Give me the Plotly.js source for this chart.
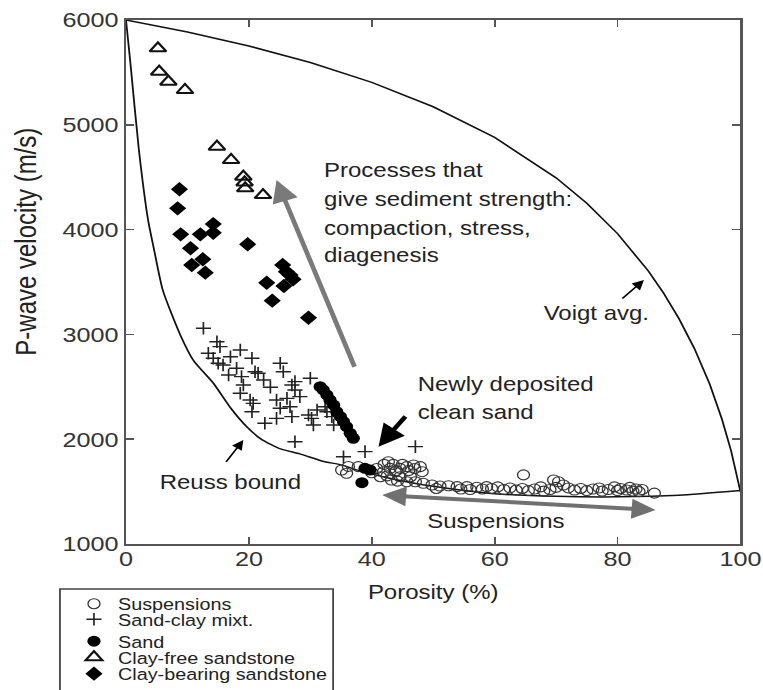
<!DOCTYPE html>
<html>
<head>
<meta charset="utf-8">
<script src="https://cdn.plot.ly/plotly-3.0.1.min.js"></script>
<style>
  html, body { margin: 0; padding: 0; background: #fff; overflow: hidden; }
  /* the figure is laid out narrower and widened horizontally */
  #chart { width: 636px; height: 690px; transform: scaleX(1.2); transform-origin: 0 0; }
</style>
</head>
<body>
<div id="chart"></div>
<script>
// Porosity (%) and P-wave velocity (m/s) for each sediment group
const suspPhi = [35.1, 35.9, 36.2, 37.8, 40.0, 40.8, 41.4, 41.9, 42.0, 42.5, 42.7, 43.0, 43.2, 43.5, 43.8, 44.0,
  44.2, 44.6, 44.6, 45.0, 45.7, 45.7, 46.0, 46.3, 46.8, 47.0, 47.1, 47.9, 48.2, 48.4, 49.8, 50.5, 51.1, 52.5,
  53.9, 54.5, 55.5, 56.0, 57.1, 58.0, 58.7, 59.5, 60.5, 61.5, 62.5, 63.5, 64.5, 64.7, 65.5, 66.5, 67.5, 68.0,
  69.0, 69.6, 70.0, 70.4, 71.2, 72.0, 73.0, 74.0, 75.0, 76.0, 77.0, 77.5, 78.5, 79.5, 80.0, 80.5, 81.5, 82.0,
  82.5, 83.0, 83.5, 84.0, 86.0];
const suspVp = [1706, 1675, 1740, 1738, 1680, 1720, 1642, 1690, 1760, 1650, 1785, 1722, 1610, 1760, 1690, 1700,
  1600, 1722, 1642, 1760, 1738, 1594, 1700, 1642, 1754, 1720, 1594, 1738, 1690, 1579, 1563, 1530, 1553, 1556,
  1547, 1525, 1547, 1520, 1541, 1525, 1547, 1530, 1545, 1520, 1535, 1515, 1530, 1660, 1510, 1525, 1545, 1505,
  1520, 1611, 1540, 1594, 1563, 1535, 1515, 1530, 1510, 1525, 1535, 1505, 1520, 1545, 1510, 1530, 1515, 1540,
  1505, 1525, 1500, 1520, 1485];

const mixPhi = [12.6, 14.8, 15.3, 13.4, 14.2, 17.0, 18.6, 20.5, 15.0, 15.8, 18.0, 21.0, 21.5, 16.7, 18.8, 19.1,
  22.4, 23.5, 25.1, 25.6, 27.0, 27.5, 27.5, 30.0, 28.3, 26.2, 26.7, 24.5, 25.1, 18.6, 20.2, 20.7, 20.5, 22.6,
  24.5, 27.0, 29.7, 30.2, 30.5, 31.1, 32.4, 32.7, 33.5, 33.8, 27.5, 35.4, 38.9, 47.1];
const mixVp = [3058, 2930, 2883, 2820, 2772, 2787, 2851, 2772, 2724, 2708, 2677, 2644, 2629, 2613, 2597, 2517,
  2565, 2495, 2724, 2644, 2517, 2469, 2549, 2581, 2406, 2390, 2310, 2374, 2295, 2438, 2374, 2342, 2262, 2152,
  2199, 2215, 2231, 2199, 2136, 2279, 2310, 2262, 2215, 2136, 1976, 1833, 1881, 1929];

const sandPhi = [31.6, 32.1, 32.7, 33.2, 33.8, 34.3, 34.9, 35.4, 35.9, 36.5, 37.0, 38.9, 39.7, 38.4];
const sandVp = [2501, 2470, 2422, 2374, 2326, 2262, 2215, 2167, 2119, 2056, 2008, 1722, 1706, 1585];

const cleanPhi = [5.2, 5.4, 6.9, 9.6, 14.8, 17.1, 19.1, 19.3, 19.4, 22.3];
const cleanVp = [5730, 5507, 5411, 5332, 4791, 4664, 4505, 4450, 4394, 4330];

const clayPhi = [8.7, 8.4, 8.9, 12.1, 14.2, 14.2, 10.5, 10.7, 12.5, 12.9, 19.8, 25.5, 26.1, 26.7, 27.2, 22.9,
  25.7, 23.8, 29.7];
const clayVp = [4385, 4203, 3955, 3955, 4053, 3970, 3822, 3662, 3717, 3589, 3860, 3662, 3598, 3567, 3526, 3493,
  3462, 3322, 3159];

// upper (Voigt) and lower (Reuss) curves
const voigtPhi = [0, 10, 20, 30, 40, 50, 60, 70, 75, 80, 85, 87.5, 90, 92.5, 95, 97, 98.5, 100];
const voigtVp = [6000, 5886, 5752, 5595, 5405, 5172, 4879, 4494, 4252, 3962, 3606, 3394, 3151, 2867, 2527, 2190, 1886, 1500];

const reussPhi = [0, 0.7, 2.1, 3.6, 4.6, 6.0, 8.8, 11, 14.2, 17, 19.7, 22, 25, 28.3, 32, 35, 38, 42, 46, 50, 55, 60, 70, 80, 90, 100];
const reussVp = [6000, 5600, 4760, 4090, 3800, 3420, 3000, 2750, 2536, 2300, 2116, 2000, 1910, 1860, 1790, 1755, 1700, 1640, 1590, 1550, 1510, 1480, 1455, 1450, 1465, 1510];

const legendNames = ['Suspensions', 'Sand-clay mixt.', 'Sand', 'Clay-free sandstone', 'Clay-bearing sandstone'];
// vertical centre of each key row, in paper units below the x axis
const legendRows = [-0.1145, -0.1440, -0.1860, -0.2165, -0.2480];

const FONT = 'Liberation Sans, Arial, Helvetica, sans-serif';
const INK = '#222';

const traces = [
  { x: voigtPhi, y: voigtVp, mode: 'lines', line: { color: '#111', width: 1.5 }, showlegend: false, hoverinfo: 'skip' },
  { x: reussPhi, y: reussVp, mode: 'lines', line: { color: '#111', width: 1.5, shape: 'spline', smoothing: 0.6 }, showlegend: false, hoverinfo: 'skip' },
  { x: suspPhi, y: suspVp, mode: 'markers', name: legendNames[0], legend: 'legend',
    marker: { symbol: 'circle-open', size: 10, color: '#333', line: { width: 1.1 } } },
  { x: mixPhi, y: mixVp, mode: 'markers', name: legendNames[1], legend: 'legend2',
    marker: { symbol: 'cross-thin-open', size: 9, color: '#222', line: { width: 1.4 } } },
  { x: sandPhi, y: sandVp, mode: 'markers', name: legendNames[2], legend: 'legend3',
    marker: { symbol: 'circle', size: 11, color: '#000' } },
  { x: cleanPhi, y: cleanVp, mode: 'markers', name: legendNames[3], legend: 'legend4',
    marker: { symbol: 'triangle-up-open', size: 12, color: '#111', line: { width: 2 } } },
  { x: clayPhi, y: clayVp, mode: 'markers', name: legendNames[4], legend: 'legend5',
    marker: { symbol: 'diamond', size: 11, color: '#000' } }
];

function label(text, x, y) {
  return { text: text, x: x, y: y, xref: 'x', yref: 'y', xanchor: 'left', yanchor: 'middle',
    showarrow: false, font: { family: FONT, size: 20, color: INK } };
}
function arrow(x, y, ax, ay, color, width, size, both) {
  return { text: '', x: x, y: y, ax: ax, ay: ay, xref: 'x', yref: 'y', axref: 'x', ayref: 'y',
    showarrow: true, arrowhead: 2, arrowsize: size, arrowwidth: width, arrowcolor: color,
    arrowside: both ? 'end+start' : 'end', standoff: 0, startstandoff: 0 };
}

const annotations = [
  label('Processes that', 31.8, 4569),
  label('give sediment strength:', 31.8, 4292),
  label('compaction, stress,', 31.8, 4015),
  label('diagenesis', 31.8, 3758),
  label('Newly deposited', 47.1, 2527),
  label('clean sand', 47.1, 2260),
  label('Voigt avg.', 67.6, 3204),
  label('Reuss bound', 5.05, 1592),
  label('Suspensions', 48.7, 1219),
  arrow(24.5, 4473, 37.3, 2677, '#7a7a7a', 4, 1.1, false),
  arrow(41.1, 1928, 45.7, 2231, '#000', 4, 1.1, false),
  arrow(84.3, 3519, 80.5, 3328, '#000', 1.5, 1.3, false),
  arrow(19.1, 1992, 16.1, 1770, '#000', 1.5, 1.3, false),
  arrow(86.2, 1324, 41.4, 1468, '#707070', 4, 1.0, true),
  // y-axis title, set a little above the middle of the axis
  { text: 'P-wave velocity (m/s)', xref: 'paper', yref: 'paper', x: -0.163, y: 0.576,
    xanchor: 'center', yanchor: 'middle', textangle: -90, showarrow: false,
    font: { family: FONT, size: 24, color: INK } }
];

const axisCommon = {
  showgrid: false, zeroline: false, showline: true, linecolor: '#555', linewidth: 2,
  mirror: 'ticks', ticks: 'inside', ticklen: 7, tickwidth: 1.5, tickcolor: '#555',
  tickfont: { family: FONT, size: 21, color: '#333' }
};

function legendAt(y) {
  return { x: -0.0912, y: y, xanchor: 'left', yanchor: 'middle', bgcolor: 'rgba(0,0,0,0)',
    borderwidth: 0, font: { family: FONT, size: 16.5, color: INK }, itemwidth: 30 };
}

const layout = {
  width: 636, height: 690,
  margin: { l: 105, r: 19, t: 20, b: 146, autoexpand: false },
  paper_bgcolor: '#fff', plot_bgcolor: '#fff',
  xaxis: Object.assign({}, axisCommon, {
    range: [0, 100], tickvals: [0, 20, 40, 60, 80, 100], ticklabelstandoff: -5,
    title: { text: 'Porosity (%)', font: { family: FONT, size: 20, color: INK }, standoff: 16 }
  }),
  yaxis: Object.assign({}, axisCommon, {
    range: [1000, 6000], tickvals: [1000, 2000, 3000, 4000, 5000, 6000]
  }),
  legend: legendAt(legendRows[0]),
  legend2: legendAt(legendRows[1]),
  legend3: legendAt(legendRows[2]),
  legend4: legendAt(legendRows[3]),
  legend5: legendAt(legendRows[4]),
  // frame around the key, open past the bottom edge of the figure
  shapes: [{ type: 'rect', xref: 'paper', yref: 'paper', x0: -0.1075, x1: 0.3371, y0: -0.0859, y1: -0.40,
    line: { color: '#444', width: 1.5 }, fillcolor: 'rgba(0,0,0,0)', layer: 'below' }],
  annotations: annotations,
  showlegend: true
};

Plotly.newPlot('chart', traces, layout, { staticPlot: true, displayModeBar: false });
</script>
</body>
</html>
